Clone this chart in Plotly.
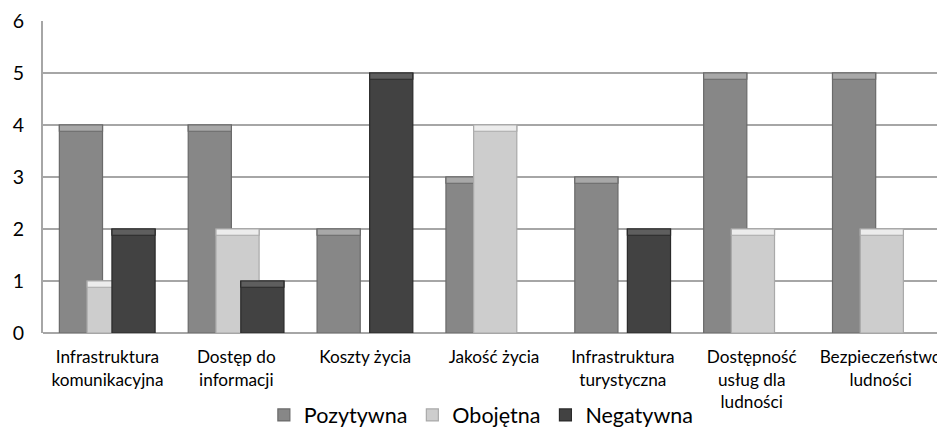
import plotly.graph_objects as go

categories = [
    "Infrastruktura<br>komunikacyjna",
    "Dostęp do<br>informacji",
    "Koszty życia",
    "Jakość życia",
    "Infrastruktura<br>turystyczna",
    "Dostępność<br>usług dla<br>ludności",
    "Bezpieczeństwo<br>ludności",
]
series_names = ["Pozytywna", "Obojętna", "Negatywna"]
pozytywna = [4, 4, 2, 3, 3, 5, 5]
obojetna = [1, 2, 0, 4, 0, 2, 2]
negatywna = [2, 1, 5, 0, 2, 0, 0]
y_ticks = [0, 1, 2, 3, 4, 5, 6]

series_values = [pozytywna, obojetna, negatywna]
colors = ["#878787", "#cdcdcd", "#424242"]
cap_colors = ["#a8a8a8", "#ececec", "#5e5e5e"]
edge_colors = ["#6a6a6a", "#a9a9a9", "#2a2a2a"]
offsets = [-0.373, -0.158, 0.035]
bar_w = 0.335
cap = 0.12

FONT = "Lato, 'Open Sans', sans-serif"
x = list(range(len(categories)))

fig = go.Figure()
for name, vals, c, cc, ec, off in zip(series_names, series_values, colors, cap_colors, edge_colors, offsets):
    fig.add_trace(go.Bar(
        x=x, y=[v if v > 0 else None for v in vals], name=name, offset=off, width=bar_w,
        marker=dict(color=c, line=dict(color=ec, width=1.2)),
        showlegend=True,
    ))
    fig.add_trace(go.Bar(
        x=x,
        y=[cap if v > 0 else None for v in vals],
        base=[v - cap if v > 0 else None for v in vals],
        offset=off, width=bar_w,
        marker=dict(color=cc, line=dict(color=ec, width=1.2)),
        showlegend=False, hoverinfo="skip",
    ))

# the page body has an 8px margin, so the figure is shrunk by that much
fig.update_layout(
    width=937, height=422,
    barmode="overlay",
    paper_bgcolor="white", plot_bgcolor="white",
    margin=dict(l=35, r=0, t=13, b=97, autoexpand=False),
    font=dict(family=FONT, color="#000000"),
    xaxis=dict(
        tickmode="array", tickvals=x, ticktext=categories,
        range=[-0.5, 6.5], showgrid=False, zeroline=False,
        showline=False, ticks="", tickfont=dict(size=17.2),
        tickangle=0, automargin=False, ticklabelstandoff=12,
    ),
    yaxis=dict(
        range=[0, 6], tickvals=y_ticks, showgrid=True,
        gridcolor="#a6a6a6", gridwidth=2, zeroline=True,
        zerolinecolor="#a6a6a6", zerolinewidth=2,
        showline=True, linecolor="#a6a6a6", linewidth=2,
        ticks="", tickfont=dict(size=19.5), ticklabelstandoff=13,
        automargin=False,
    ),
    legend=dict(
        orientation="h", x=0.486, xanchor="center", y=-0.197, yanchor="top",
        font=dict(size=21.5), traceorder="normal", itemwidth=30,
    ),
    showlegend=True,
)

fig.write_html("out.html")
